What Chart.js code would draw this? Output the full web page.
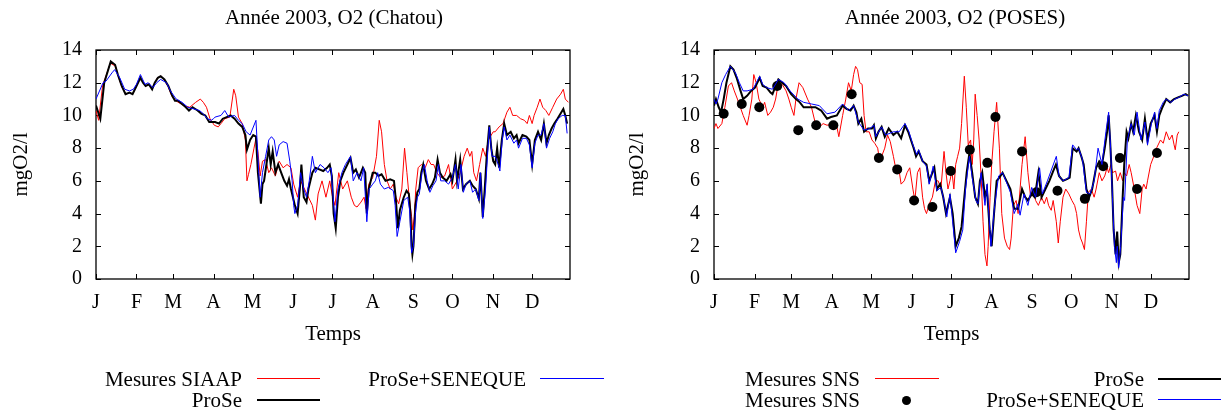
<!DOCTYPE html>
<html>
<head>
<meta charset="utf-8">
<script src="https://cdn.jsdelivr.net/npm/chart.js@4/dist/chart.umd.min.js"></script>
<style>
  html, body { margin:0; padding:0; background:#fff; }
  body { width:1224px; height:416px; position:relative; overflow:hidden; font-family:"Liberation Serif", "Times New Roman", serif; color:#000; }
  .cv { position:absolute; top:0; width:612px; height:416px; }
  .txt { position:absolute; white-space:nowrap; font-size:21px; line-height:24px; height:24px; }
  .r { text-align:right; width:300px; }
  .c { text-align:center; width:400px; }
  .ln { position:absolute; }
  .dot { position:absolute; width:9px; height:9px; border-radius:50%; background:#000; }
</style>
</head>
<body>
<div class="cv" style="left:0"><canvas id="c1" width="612" height="416"></canvas></div>
<div class="cv" style="left:612px"><canvas id="c2" width="612" height="416"></canvas></div>

<div class="txt c" style="left:134px; top:5px;">Année 2003, O2 (Chatou)</div>
<div class="txt c" style="left:755px; top:5px;">Année 2003, O2 (POSES)</div>

<div class="txt r" style="left:-58px; top:367px;">Mesures SIAAP</div>
<div class="ln" style="left:257px; top:378px; width:63px; height:1px; background:#ff0000;"></div>
<div class="txt r" style="left:-58px; top:388px;">ProSe</div>
<div class="ln" style="left:257px; top:399px; width:63px; height:2px; background:#000;"></div>
<div class="txt r" style="left:226px; top:367px;">ProSe+SENEQUE</div>
<div class="ln" style="left:540px; top:378px; width:64px; height:1px; background:#0000ff;"></div>

<div class="txt r" style="left:560px; top:367px;">Mesures SNS</div>
<div class="ln" style="left:875px; top:378px; width:64px; height:1px; background:#ff0000;"></div>
<div class="txt r" style="left:560px; top:388px;">Mesures SNS</div>
<div class="dot" style="left:902px; top:396px;"></div>
<div class="txt r" style="left:844px; top:367px;">ProSe</div>
<div class="ln" style="left:1158px; top:378px; width:63px; height:2px; background:#000;"></div>
<div class="txt r" style="left:844px; top:388px;">ProSe+SENEQUE</div>
<div class="ln" style="left:1158px; top:399px; width:63px; height:1px; background:#0000ff;"></div>

<script>
// ---------- axis definitions ----------
const monthStarts = [0, 31, 59, 90, 120, 151, 181, 212, 243, 273, 304, 334];
const monthLabels = ['J','F','M','A','M','J','J','A','S','O','N','D'];
const yTicks = [0, 2, 4, 6, 8, 10, 12, 14];

// ---------- Chatou (left) ----------
const chatouSiaapDays = [0,2,5,8,11,15,17,20,23,26,
28,31,34,36,38,41,43,45,47,50,
52,55,58,61,67.3,71.8,76.3,79.9,82.2,84.6,
87.3,90.6,93.6,95.7,98.6,102.5,105.5,107,109.1,112,
114.4,115.6,116.8,118.6,121,122.5,124,125.7,127.5,129.9,
132.3,134.4,137.4,140.3,143.3,146.3,149.3,151.4,154.4,156.7,
159.7,165.7,168,170.1,173.1,176.1,179,181.2,183,185.9,
188.9,192.5,195.5,197.9,199.9,202.9,205.3,206.8,208.9,211.9,
214.8,216.9,218.7,220.8,222.9,225.3,227.7,229.7,231.8,234.2,
236.3,238.1,239.6,241.7,242.6,243.7,244.9,246.7,249.1,252.1,
254.5,256.6,258.6,261,264,267,270,272.9,276.5,278.9,
281.9,284.3,286.3,287.8,289.3,291.4,293.8,296.2,298.3,300.4,
304.2,305.7,308.7,311.7,314.7,317,319.1,322.1,325.1,328.1,
330.2,331.9,334,335.5,337.9,340,342.1,344.5,346.8,349.8,
352.8,355.8,357.9,359.4,361.8];
const chatouSiaap = [10.3,9.7,11.8,12.5,13.2,13.0,12.4,11.7,11.3,11.4,
11.3,11.8,12.3,12.0,11.8,11.9,11.6,12.0,12.3,12.4,
12.2,11.8,11.2,10.9,10.6,10.5,10.8,11.0,10.8,10.5,
9.8,9.4,9.3,9.5,9.8,9.9,11.6,11.2,9.9,9.5,
8.5,6.0,6.4,7.0,8.0,8.6,7.8,6.3,7.2,7.3,
6.5,6.8,6.3,7.2,6.8,7.0,6.8,5.8,5.0,6.0,
5.5,4.5,3.6,5.2,6.0,5.0,6.0,5.0,4.5,6.5,
5.5,6.0,5.0,4.5,4.4,4.7,5.0,4.3,5.8,6.2,
7.5,9.7,9.0,7.0,6.0,5.5,5.8,5.0,4.6,5.5,
8.0,6.5,5.2,3.8,3.0,3.8,5.5,6.8,7.0,6.8,
7.3,7.0,7.0,6.5,6.2,6.3,7.0,5.5,6.0,6.5,
7.5,8.0,7.5,7.8,6.5,6.0,7.0,8.0,7.5,8.5,
9.0,9.0,9.3,9.5,10.2,10.5,10.0,10.0,9.8,9.7,
9.5,10.0,9.5,10.0,10.5,11.0,10.5,10.3,10.0,10.5,
11.0,11.3,11.6,11.0,10.8];

const chatouProseDays = [0,3.3,6.3,11.3,14.6,16.7,19.7,22.6,25.6,28,
31,34,36,38,40.5,43,45,47.4,49.5,52.4,
55.4,58.4,60.5,62.9,65.9,68.8,71.2,73.9,77.8,80.8,
83.7,86.7,90,91.2,94.2,97.1,100.1,103.1,106.1,109.1,
112,114.4,115.6,118,120.4,122.5,124,126.3,127.5,128.7,
130.5,132.3,133.8,135.3,137.4,139.5,141.8,144.2,146.3,147.8,
149.3,151.4,152.3,154.4,156.1,157.3,159.1,161.2,162.7,164.2,
165.7,168,171,174,177,179,180.6,182,183.6,185.3,
187.1,189.5,192.5,194.9,197,199,201.4,204.4,206.2,207.4,
208.9,211.9,213.9,216.3,218.7,221.7,225.3,228.2,229.7,231.2,
232.7,235.7,237.8,239.6,240.8,241.7,242.3,243.1,244.6,246.1,
247.6,249.1,250.6,252.7,255.1,257.5,259.5,261.6,263.4,265.5,
268.5,271.5,272.9,275.3,276.5,278.9,281,283.4,286.3,288.4,
290.8,293.2,294.4,296.2,297.7,299.2,301.2,302.7,304.2,305.7,
307.2,308.7,310.8,312.6,314.7,317.6,320,322.1,323.6,326.6,
329.6,331.9,334,336.1,338.5,340.9,343,345,346.8,348.9,
351,353.4,356.4,357.9,359.4,360.8];
const chatouProse = [10.6,9.8,12.0,13.3,13.1,12.5,11.8,11.3,11.4,11.3,
11.8,12.3,12.0,11.8,11.9,11.6,12.0,12.3,12.4,12.2,
11.8,11.2,10.9,10.9,10.7,10.5,10.3,10.5,10.3,10.1,
10.0,9.6,9.6,9.6,9.5,9.8,9.9,10.0,9.8,9.5,
9.3,8.8,7.9,8.5,8.8,8.7,6.5,4.6,5.8,6.0,
7.0,8.0,7.0,7.8,6.5,7.0,6.5,6.0,5.7,6.1,
5.5,4.8,4.5,4.0,5.5,7.0,5.0,4.7,5.5,6.0,
6.5,6.8,6.7,6.6,6.8,7.0,6.3,4.0,3.1,5.0,
6.0,6.5,7.0,7.4,6.5,6.7,6.2,6.8,6.5,4.0,
5.5,6.5,6.5,6.3,6.4,6.0,6.1,6.0,4.8,3.1,
4.2,5.0,5.4,5.2,4.0,2.0,1.5,2.0,4.5,5.3,
5.5,6.5,7.0,6.0,5.5,5.8,6.2,7.3,6.5,6.2,
6.0,6.4,6.0,7.3,6.0,7.3,5.5,5.8,6.0,5.7,
5.5,4.9,6.5,3.8,5.5,7.5,9.4,8.0,7.2,7.0,
8.0,6.8,8.5,9.5,8.8,9.0,8.6,8.8,8.3,8.8,
8.7,8.5,7.0,8.5,9.0,8.5,9.5,8.3,8.8,9.2,
9.5,9.8,10.2,10.4,10.0,9.5];

const chatouSenequeDays = [0,5.4,7.7,12.2,14.3,18.2,22,25.6,28.6,31,
34,37.5,40,43.5,46.5,49.5,54,57,61.4,65.9,
70.3,74.8,79.3,82.2,85.2,88.2,90,91.2,95.7,98.6,
101.6,106.1,109.1,112,115,118,122.5,124,125.7,127.5,
129.9,132.3,134.4,136.5,138.3,140.3,143.3,146.3,148.4,150.2,
151.4,152.3,154.4,156.7,159.1,161.2,163.3,165.7,168,171.6,
174.6,177.6,180,183,185.3,188.3,191,194.9,197,199.9,
202.9,205,207.4,209.2,211.9,213.9,215.7,217.8,220.8,223.8,
227.7,229.1,230.6,232.7,235.7,238.7,240.2,241.7,243.1,244.6,
246.1,247.6,249.7,251.5,253.6,255.7,258,260.4,262.2,264,
267,270,272.9,275.3,277.4,279.5,281.3,283.4,286.3,288.4,
290.8,293.2,294.4,296.2,298.3,299.8,301.2,303.3,305.7,308.1,
309.3,311.1,312.6,314.7,317,320,322.1,323.6,326.6,329.6,
331.9,334,336.1,338.5,340.9,343,345,347.4,349.8,351.8,
354,357,359.4,360.8];
const chatouSeneque = [11.0,12.0,12.1,12.6,12.8,12.3,11.6,11.5,11.6,11.9,
12.5,11.9,12.0,11.7,12.0,12.2,12.0,11.5,11.0,10.8,
10.5,10.4,10.3,10.1,9.8,9.7,9.8,9.9,10.0,10.3,
9.9,10.0,9.7,9.5,9.0,8.8,9.7,7.5,5.0,6.5,
7.5,8.5,8.7,8.5,7.5,8.2,8.4,8.3,7.2,6.0,
4.5,4.0,4.5,6.5,5.5,5.0,6.0,7.5,6.5,7.0,
6.8,6.5,6.8,3.5,5.5,6.5,7.0,7.5,6.0,6.5,
6.0,6.8,3.5,5.5,5.8,6.0,6.5,5.8,5.5,5.6,
5.4,4.5,2.6,3.5,4.8,5.0,4.2,1.6,2.0,4.0,
5.0,5.2,6.5,7.0,6.0,5.3,5.7,6.0,7.0,6.0,
6.0,5.8,6.2,7.0,5.5,7.0,5.3,5.8,6.0,5.3,
5.5,4.8,6.5,3.7,5.5,7.5,9.3,7.5,7.5,7.0,
6.6,8.5,9.3,8.5,8.8,8.3,8.5,8.0,8.6,8.6,
8.2,6.8,8.3,8.8,8.8,9.5,8.0,8.6,9.0,9.5,
9.8,10.0,10.0,8.9];

// ---------- Poses (right) ----------
const posesSnsDays = [0,1.5,3,6,8.3,11,13.4,15.5,17.9,22.3,
25.3,26.8,28.9,30.4,32.2,34.3,37.2,38.7,41.1,43.2,
45.3,47.1,49.2,52.1,55.1,57.2,59,61.1,62.6,65,
67.9,71.5,74.5,77.5,80.5,83.4,86.4,90.9,93.9,95.4,
98.3,100.7,102.8,104.9,106.7,108.2,109.7,111.4,113.2,114.7,
116.2,118.6,120.7,122.8,125.1,126.6,128.1,130.5,132.6,134.7,
137.1,139.5,141.5,143,145.4,147.5,149.6,152,153.5,155.5,
157.3,159.4,160.9,162.4,164.5,166.9,169.2,171.3,173.4,175.8,
177.3,178.8,180.3,181.8,183.3,184.7,186.2,187.7,189.2,191.3,
192.8,194.3,196.1,197.3,198.5,199.6,201.1,202.6,204.1,205.6,
207.1,208.6,209.5,211,212.2,214,216,218.1,219.9,222,
224.1,225.9,227.1,228.8,230.9,232.4,233.9,235.4,237.8,239.9,
242,243.7,245.8,247.9,250.3,252.4,254.2,255.7,257.7,259.2,
261.6,263.1,264.6,266.7,268.8,271.2,273.5,275.6,277.1,278.6,
280.1,281.6,283.1,284.6,286.1,288.4,290.5,292,294.4,296.5,
298.6,300.4,301.6,303.3,304.5,306.9,308.4,310.5,312.3,313.5,
315.3,317.3,318.8,321.2,323.3,325.4,327.2,328.4,330.2,331.3,
333.7,336.1,338.2,341.2,343.3,345.6,348,350.1,351.6,352.5,
354,355.2];
const posesSns = [9.2,9.5,9.2,9.5,10.5,11.8,12.0,11.5,11.0,10.0,
9.4,10.0,11.0,12.5,12.0,11.0,10.5,10.8,10.0,10.2,
10.5,11.0,12.0,11.9,11.5,11.0,10.5,10.0,11.0,12.0,
11.7,11.0,10.5,9.5,9.3,9.5,9.4,9.5,9.3,8.7,
10.0,11.0,12.0,11.5,12.5,13.0,12.8,12.0,11.9,10.0,
9.0,9.0,8.5,8.3,8.0,7.2,7.5,8.0,8.8,8.4,
7.5,6.5,6.6,5.8,6.0,6.5,6.8,5.5,4.8,6.5,
6.8,5.0,4.3,4.0,4.6,5.0,6.0,6.0,5.5,7.8,
6.5,5.5,6.0,6.6,5.5,7.0,7.5,8.0,9.5,12.4,
10.5,8.2,8.5,7.0,8.5,11.3,10.0,8.5,6.3,3.5,
1.5,0.8,2.0,5.0,7.0,9.0,10.8,8.0,4.0,2.5,
2.0,1.8,2.5,4.5,4.8,4.0,5.5,7.0,8.7,6.5,
5.0,5.5,4.8,4.5,5.0,4.6,5.0,4.5,4.2,4.8,
3.5,2.2,3.5,5.0,5.5,5.2,4.8,4.5,4.0,3.0,
2.5,2.2,1.8,3.5,5.3,5.5,5.0,5.5,6.5,6.0,
6.3,6.8,6.5,7.0,6.5,6.6,6.0,6.5,6.0,6.5,
6.3,7.0,6.5,5.5,4.5,4.0,5.5,5.8,5.5,6.0,
7.0,7.5,8.0,8.5,8.3,9.0,8.5,8.8,8.2,7.9,
8.8,9.0];

const posesSnsPointDays = [7.4,21.2,34.6,48.3,64.4,78.1,91.2,105.2,126,140,152.9,166.9,180.9,195.5,208.9,215.1,235.4,246.4,262.5,283.4,297.4,310.2,323.3,338.5];
const posesSnsPoints = [10.1,10.7,10.5,11.8,9.1,9.4,9.4,11.3,7.4,6.7,4.8,4.4,6.6,7.9,7.1,9.9,7.8,5.3,5.4,4.9,6.9,7.4,5.5,7.7];

const posesProseDays = [0,1.5,3.6,5.4,7.4,9.5,12.5,14.9,17.3,20.3,
22.3,25.3,28.3,31.3,34.9,37.2,40.2,43.2,44.7,47.1,
49.2,52.1,55.1,59,62.6,65.6,68.5,71.5,77.5,81.9,
86.4,89.4,93.9,98.3,101.3,104.3,106.7,108.8,110.3,112.6,
114.7,117.7,120.7,122.2,123.7,125.7,128.1,130.5,133.5,137.1,
140,143,146,148.4,150.5,152.6,154.4,156.4,159.4,162.4,
164.5,166.9,168.4,170.4,172.8,175.2,177.3,178.8,180.3,182.4,
184.7,187.1,189.2,191.3,193.1,195.2,197.3,199.6,201.7,203.2,
205,207.1,208.6,210.7,212.2,214,216,218.1,220.5,223.5,
226.5,229.4,232.4,235.4,237.8,239.9,242.8,245.2,247.9,250.3,
253.3,256.3,259.2,261.3,263.7,266.7,269.7,271.8,274.1,277.1,
278.6,280.7,282.5,284.6,286.7,289,292,294.4,296.5,298.6,
300.4,301.6,302.7,303.9,305.4,306.9,308.1,309.3,310.5,312.3,
313.5,315.3,316.7,318.8,320.3,322.4,324.8,327.2,329.3,331.3,
333.7,336.7,338.5,340.3,342.7,345.6,348.6,351.6,354.6,357.6,
360.5,362.3];
const posesProse = [10.6,11.0,10.5,10.2,11.0,12.0,13.0,12.8,12.3,11.5,
11.0,11.2,11.5,11.7,12.3,11.8,11.7,11.4,11.3,11.8,
12.2,12.0,11.8,11.3,11.0,10.8,10.5,10.5,10.5,10.3,
9.8,9.9,10.0,10.6,10.4,10.3,10.6,10.2,9.5,9.8,
9.0,9.2,9.2,9.4,8.6,9.0,9.3,8.7,9.2,8.8,
9.0,8.6,9.4,9.0,8.5,8.0,7.5,7.8,7.2,7.0,
6.0,6.5,6.8,5.5,5.8,5.0,4.0,4.5,5.0,4.0,
2.0,2.5,3.2,5.0,6.5,7.7,6.5,5.0,4.6,6.0,
6.5,5.0,5.5,3.0,2.0,4.0,6.0,6.2,6.5,6.0,
5.5,4.3,4.3,5.5,5.0,4.8,5.2,5.0,6.5,5.0,
5.5,6.0,6.6,7.0,6.3,6.0,6.1,6.2,8.0,7.8,
8.0,7.5,7.0,5.5,5.0,5.5,6.8,7.2,7.0,8.0,
9.0,10.0,8.5,6.5,3.0,1.5,2.9,1.0,1.5,5.0,
7.0,9.0,8.6,9.5,9.0,10.0,9.0,8.5,9.8,8.5,
9.5,10.0,9.0,10.0,10.5,11.0,10.8,11.0,11.1,11.2,
11.3,11.2];

const posesSenequeDays = [0,1.5,3,6,8.9,12.5,16.4,19.4,22.3,25.3,
29.8,34.9,37.2,40.2,44.7,49.2,53.6,58.1,64.1,68.5,
74.5,80.5,86.4,92.4,98.3,102.8,106.7,110.3,114.7,119.2,
122.2,123.7,128.1,131.1,137.1,141.5,146,149,152,154.9,
156.4,159.4,162.4,164.5,167.5,170.4,173.4,175.8,177.9,180.3,
182.4,184.7,187.7,190.1,192.2,195.2,197.3,200.2,201.7,204.1,
207.1,208.6,211.6,214.5,217.5,220.5,224.1,226.5,229.4,232.4,
233.9,236.9,239.9,242.8,245.8,248.8,250.9,254.8,261.6,263.7,
266.7,271.2,274.1,277.1,278.6,281.6,284.6,287.5,290.5,293.5,
296.5,299.5,301.6,303.1,304.5,306,307.5,308.1,309.3,310.8,
312.9,313.8,315.9,318.8,321.2,323.3,326.3,329.3,331.3,334.3,
336.7,338.5,340.3,343.3,345.6,349.2,352.2,355.2,359.1,362.3];
const posesSeneque = [11.0,10.7,11.0,12.0,12.5,13.0,12.6,12.0,11.5,11.5,
11.6,12.4,11.9,11.7,11.6,12.2,12.0,11.5,11.0,10.8,
10.7,10.6,10.1,10.2,10.7,10.3,10.6,9.6,9.1,9.2,
9.4,8.7,9.3,8.8,9.0,9.0,9.5,9.0,8.2,7.6,
7.9,7.2,6.9,5.8,6.9,5.4,5.6,4.8,3.8,5.2,
3.5,1.6,2.3,3.0,5.5,7.5,6.2,4.8,4.6,6.5,
4.5,5.8,2.0,4.5,6.3,6.5,5.8,5.3,4.0,4.6,
3.9,5.2,4.5,5.6,5.0,6.8,5.2,6.0,7.5,6.3,
6.0,6.2,8.2,7.9,8.0,7.3,5.3,5.2,6.0,8.0,
7.0,9.0,10.2,8.0,5.0,2.0,1.0,2.0,0.7,2.0,
5.0,4.8,8.5,9.5,8.8,10.2,8.5,9.6,8.2,9.5,
10.2,9.2,10.3,10.8,11.0,10.8,11.0,11.1,11.3,11.2];

// ---------- helpers ----------
const zip = (xs, ys) => xs.map((x, i) => ({ x: x, y: ys[i] }));

Chart.defaults.font.family = "'Liberation Serif', 'Times New Roman', serif";
Chart.defaults.color = '#000';

const framePlugin = {
  id: 'gnuFrame',
  beforeDatasetsDraw(chart) {
    const { ctx, chartArea: a, scales: { x, y } } = chart;
    ctx.save();
    ctx.strokeStyle = '#000';
    ctx.lineWidth = 1.3;
    ctx.strokeRect(a.left, a.top, a.right - a.left, a.bottom - a.top);
    ctx.lineWidth = 1;
    const L = 5;
    ctx.beginPath();
    x.ticks.forEach(t => {
      const px = Math.round(x.getPixelForValue(t.value)) + 0.5;
      ctx.moveTo(px, a.bottom); ctx.lineTo(px, a.bottom - L);
      ctx.moveTo(px, a.top); ctx.lineTo(px, a.top + L);
    });
    y.ticks.forEach(t => {
      const py = Math.round(y.getPixelForValue(t.value)) + 0.5;
      ctx.moveTo(a.left, py); ctx.lineTo(a.left + L, py);
      ctx.moveTo(a.right, py); ctx.lineTo(a.right - L, py);
    });
    ctx.stroke();
    ctx.restore();
  }
};

function makeOptions(axisWidth, padRight, yTitlePad) {
  return {
    responsive: false,
    animation: false,
    devicePixelRatio: 1,
    layout: { padding: { top: 50, right: padRight, bottom: 0, left: 0 } },
    plugins: { legend: { display: false }, tooltip: { enabled: false }, title: { display: false } },
    scales: {
      x: {
        type: 'linear', min: 0, max: 363,
        grid: { display: false, drawTicks: false },
        border: { display: false },
        afterBuildTicks: s => { s.ticks = monthStarts.map(v => ({ value: v })); },
        afterFit: s => { s.height = 137; },
        ticks: { autoSkip: false, maxRotation: 0, minRotation: 0, padding: 12, color: '#000',
                 font: { size: 20 }, callback: (v, i) => monthLabels[i] },
        title: { display: true, text: 'Temps', color: '#000', font: { size: 21 },
                 padding: { top: 0, bottom: 69 } }
      },
      y: {
        min: 0, max: 14,
        grid: { display: false, drawTicks: false },
        border: { display: false },
        afterBuildTicks: s => { s.ticks = yTicks.map(v => ({ value: v })); },
        afterFit: s => { s.width = axisWidth; },
        ticks: { padding: 14, color: '#000', font: { size: 20 } },
        title: { display: true, text: 'mgO2/l', color: '#000', font: { size: 21 },
                 padding: { top: yTitlePad, bottom: 0 } }
      }
    }
  };
}

function lineSet(label, xs, ys, color, width, order) {
  return { label: label, data: zip(xs, ys), borderColor: color, backgroundColor: color,
           borderWidth: width, pointRadius: 0, tension: 0, fill: false, order: order };
}

new Chart(document.getElementById('c1'), {
  type: 'line',
  data: { datasets: [
    lineSet('Mesures SIAAP', chatouSiaapDays, chatouSiaap, '#ff0000', 1, 3),
    lineSet('ProSe', chatouProseDays, chatouProse, '#000000', 2, 2),
    lineSet('ProSe+SENEQUE', chatouSenequeDays, chatouSeneque, '#0000ff', 1, 1)
  ] },
  options: makeOptions(96, 42, 9),
  plugins: [framePlugin]
});

new Chart(document.getElementById('c2'), {
  type: 'line',
  data: { datasets: [
    lineSet('Mesures SNS', posesSnsDays, posesSns, '#ff0000', 1, 4),
    { label: 'Mesures SNS', data: zip(posesSnsPointDays, posesSnsPoints), showLine: false,
      pointRadius: 5, pointBackgroundColor: '#000', pointBorderColor: '#000', pointBorderWidth: 0,
      borderColor: '#000', backgroundColor: '#000', order: 3 },
    lineSet('ProSe', posesProseDays, posesProse, '#000000', 2, 2),
    lineSet('ProSe+SENEQUE', posesSenequeDays, posesSeneque, '#0000ff', 1, 1)
  ] },
  options: makeOptions(102, 35, 13),
  plugins: [framePlugin]
});
</script>
</body>
</html>
